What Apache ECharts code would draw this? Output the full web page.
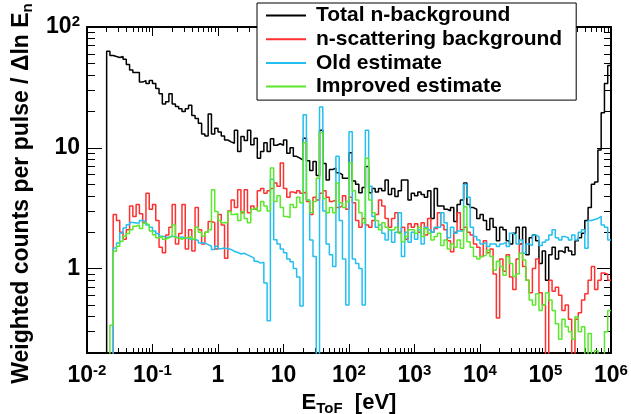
<!DOCTYPE html>
<html>
<head>
<meta charset="utf-8">
<script src="https://cdn.jsdelivr.net/npm/echarts@6/dist/echarts.min.js"></script>
<style>
html, body { margin: 0; padding: 0; background: #fff; }
#chart { width: 631px; height: 414px; }
</style>
</head>
<body>
<div id="chart"></div>
<script>
// Logarithmic binning in neutron energy: 20 bins per decade, 10^-2 eV .. 10^6 eV
const binsPerDecade = 20;
const logEnergyMin = -2;

// Bin contents (weighted counts per pulse / Δln E_n); null = bin not filled,
// 0 = empty bin (the histogram drops to the bottom of the frame)
const totalBackground = [
  null,null,null,null,null,null,63,58,57,56,57,54,49,44,42,42,35,36,34,36,
  34,31,28,23,24,28,23,22,21,20,21,22.5,18.5,17.5,16,13,12.5,19,13,14.5,
  13.5,12.5,11.6,11.2,10.9,14,9.3,12.4,11.5,14,10.6,12,8.2,9.3,11,9.3,11.9,10.5,10.8,10.5,
  11.6,9.0,10,8.5,8.2,7.9,12,7.8,6.5,7.7,5.9,14,7.4,5.4,6.6,6.8,6.2,6.0,5.6,5.6,
  9.1,5.3,5.0,4.25,4.7,7.0,4.25,4.6,4.3,4.6,4.4,5.4,4.1,4.6,3.95,4.4,5.4,5.4,3.7,4.2,
  4.0,4.3,4.1,3.9,4.4,2.6,4.6,3.3,3.3,3.1,3.0,3.2,2.45,3.4,3.7,5.1,3.4,3.2,3.1,2.6,
  2.8,2.5,2.1,2.6,2.2,1.7,2.2,2.1,1.7,1.6,1.96,2.2,1.6,2.2,1.3,1.8,1.9,1.7,1.1,1.4,
  0.8,1.3,1.5,1.2,1.4,1.35,1.5,1.4,1.3,1.7,1.8,1.96,2.5,3.2,5.0,5.2,9.6,19.5,34,48
];

const scatteringBackground = [
  null,null,null,null,null,null,null,null,2.8,2.5,2.0,1.75,2.1,3.3,2.7,3.4,2.85,2.4,4.2,3.1,
  3.4,2.5,1.5,1.35,1.9,2.2,3.4,1.6,1.95,3.4,1.45,2.1,1.4,3.2,2.1,1.6,2.0,2.45,2.4,1.45,
  2.8,2.3,1.22,3.0,3.7,3.2,4.5,2.9,4.5,2.9,3.3,3.1,4.4,4.6,4.2,4.4,4.6,5.1,4.8,7.5,
  4.6,3.9,4.3,4.2,4.4,4.2,4.3,3.6,2.8,3.9,3.7,4.2,4.4,3.9,3.6,3.7,3.2,3.3,4.0,3.1,
  3.9,3.5,2.5,2.2,2.6,2.3,2.2,2.5,2.8,3.7,3.3,2.6,2.2,2.6,2.9,2.0,2.2,1.75,2.35,2.2,
  2.35,2.0,2.4,1.9,2.6,2.0,2.15,2.9,2.3,2.1,1.7,1.38,2.0,2.9,2.1,2.2,2.0,1.9,1.6,1.5,
  1.26,1.7,1.35,1.45,0.9,0.39,1.2,0.95,1.3,0.85,0.67,1.2,1.6,1.04,0.8,0.63,1.0,1.2,0.63,0.5,
  0,0.8,0.65,0.7,0.6,0.45,0.5,0.38,0,0.38,0.43,0.55,0.62,0.8,1.04,0.67,0.8,0.92,0.9,0.8
];

const oldEstimate = [
  null,null,null,null,null,null,null,0,1.48,1.63,1.97,2.17,2.31,2.41,2.38,2.38,2.5,2.45,2.3,2.2,
  2.05,1.95,1.85,1.83,1.82,1.85,1.83,1.8,1.83,1.8,1.78,1.74,1.75,1.7,1.63,1.63,1.58,1.53,1.44,1.53,
  1.46,1.48,1.46,1.44,1.39,1.36,1.32,1.34,1.3,1.26,1.22,1.15,1.11,1.13,0.76,0.37,5.5,1.73,1.6,1.45,
  1.35,1.2,1.14,1.0,0.85,0.49,18.8,3.7,1.72,1.26,0,21.8,3.0,1.6,1.3,1.04,8.5,2.5,1.2,0.5,
  13.6,1.2,1.1,1.0,0.5,14,4.8,2.7,2.2,2.3,1.96,1.72,2.1,1.65,2.0,2.9,1.26,2.0,1.65,2.0,
  1.75,2.1,1.6,2.2,2.1,2.0,2.2,2.2,2.9,2.4,1.8,2.2,1.96,2.05,2.05,5.0,3.9,2.2,1.84,1.72,
  1.6,1.65,1.52,1.6,1.6,1.52,1.6,1.65,1.52,1.96,1.9,1.6,1.72,1.34,1.6,1.55,1.9,1.84,1.55,1.65,
  1.72,1.9,2.1,1.8,1.72,1.84,1.8,1.72,1.9,1.72,2.0,2.1,1.47,2.5,2.55,2.6,2.7,2.3,2.2,1.72
];

const improvedEstimate = [
  null,null,null,null,null,null,null,0.34,1.39,1.53,1.68,1.85,1.95,2.1,2.24,2.3,2.15,2.38,2.3,2.05,
  1.91,1.8,1.85,1.75,1.8,1.85,2.3,1.8,1.75,1.8,1.8,1.85,1.75,2.2,2.0,1.85,2.0,2.1,4.5,2.97,
  2.5,2.4,2.4,2.97,2.8,2.85,2.5,2.97,2.6,2.4,3.1,3.2,3.0,3.6,3.3,3.0,6.8,3.6,4.0,3.2,
  2.7,2.65,3.4,3.2,3.9,3.5,11,3.7,2.9,3.6,5.6,13.3,3.8,2.9,3.2,2.9,5.1,3.5,3.2,3.6,
  7.5,4.4,3.7,2.9,2.4,8.2,3.7,2.9,2.5,2.1,2.4,2.2,2.1,2.1,2.2,1.96,1.67,1.84,2.1,2.1,
  1.96,2.2,1.84,2.15,1.96,1.72,1.84,1.96,1.55,1.72,1.45,1.6,1.5,1.72,1.47,3.25,1.67,1.5,1.26,1.2,
  1.26,1.3,1.42,1.26,0.97,1.15,1.04,0.88,1.26,1.1,0.86,0.9,1.34,1.18,0.8,0.55,0.5,0.62,0.45,0.5,
  0.63,0.55,0.45,0.35,0.26,0.38,0.33,0.3,0.26,0.4,0.3,0.33,0,0.29,0,0.21,0,0,0.3,0.45
];

const seriesNames = ['Total n-background', 'n-scattering background', 'Old estimate', 'Improved estimate'];
const seriesColors = ['#000000', '#ff3030', '#22bff0', '#5ae82c'];

// Axis ranges and decade ticks
const xRange = [1e-2, 1e6];
const yRange = [0.2, 100];
const xMajorTicks = [1e-2, 1e-1, 1, 10, 1e2, 1e3, 1e4, 1e5, 1e6];
const yMajorTicks = [1, 10, 100];

// 2..9 x 10^k sub-ticks inside a range
function minorTicks(range) {
  const out = [];
  for (let k = Math.floor(Math.log10(range[0])); k < Math.ceil(Math.log10(range[1])); k++) {
    for (let m = 2; m <= 9; m++) {
      const v = m * Math.pow(10, k);
      if (v >= range[0] * 0.999 && v <= range[1] * 1.001) out.push(v);
    }
  }
  return out;
}

// Below-frame value used for empty bins on the log scale (clipped by the grid)
const EMPTY = 1e-3;
function binEdge(i) { return Math.pow(10, logEnergyMin + i / binsPerDecade); }
function histogramPoints(values) {
  const first = values.findIndex(v => v !== null);
  const pts = [[binEdge(first), EMPTY]];
  for (let i = first; i < values.length; i++) {
    pts.push([binEdge(i), values[i] > 0 ? values[i] : EMPTY]);
  }
  const last = values[values.length - 1];
  pts.push([binEdge(values.length), last > 0 ? last : EMPTY]);
  return pts;
}

const font = 'Liberation Sans, Arial, Helvetica, sans-serif';
const tickRich = {
  b: { fontSize: 23, fontWeight: 'bold', fontFamily: font, color: '#000', lineHeight: 26 },
  s: { fontSize: 15, fontWeight: 'bold', fontFamily: font, color: '#000', lineHeight: 16, verticalAlign: 'top' }
};
function powerLabel(v) {
  const e = Math.round(Math.log10(v));
  if (e === 0) return '{b|1}';
  if (e === 1) return '{b|10}';
  return '{b|10}{s|' + e + '}';
}

function makeAxis(kind, position, ticks, tickLen, withLine, withLabels, extra) {
  const range = kind === 'x' ? xRange : yRange;
  const majors = kind === 'x' ? xMajorTicks : yMajorTicks;
  return Object.assign({
    type: 'log', logBase: 10, min: range[0], max: range[1],
    position: position, offset: 0, gridIndex: 0,
    axisLine: { show: withLine, onZero: false, lineStyle: { color: '#000', width: 2 } },
    axisTick: { show: true, inside: true, length: tickLen, customValues: ticks,
                lineStyle: { color: '#000', width: 1 } },
    axisLabel: withLabels ? {
      show: true, customValues: majors, formatter: powerLabel, rich: tickRich,
      margin: kind === 'x' ? 10 : 7, showMinLabel: true, showMaxLabel: true
    } : { show: false },
    splitLine: { show: false },
    minorTick: { show: false },
    minorSplitLine: { show: false }
  }, extra || {});
}

const xMinor = minorTicks(xRange);
const yMinor = minorTicks(yRange);

const option = {
  animation: false,
  backgroundColor: '#fff',
  grid: { left: 87, right: 20, top: 27, bottom: 61, containLabel: false, outerBoundsMode: 'none' },
  legend: {
    orient: 'vertical', left: 257, top: 3,
    padding: [2, 14, 3, 9], itemGap: 2.7,
    itemWidth: 40, itemHeight: 2, icon: 'rect',
    backgroundColor: '#fff', borderColor: '#000', borderWidth: 1, borderRadius: 0,
    selectedMode: false,
    textStyle: { fontSize: 21, fontWeight: 'bold', fontFamily: font, color: '#000',
                 lineHeight: 21, padding: [0, 0, 0, 5] },
    data: seriesNames
  },
  xAxis: [
    makeAxis('x', 'bottom', xMajorTicks, 9, true, true, {
      name: '{b|E}{s|ToF}{b|  [eV]}', nameLocation: 'middle', nameGap: 28,
      nameTextStyle: { rich: {
        b: { fontSize: 22, fontWeight: 'bold', fontFamily: font, color: '#000', lineHeight: 26 },
        s: { fontSize: 15, fontWeight: 'bold', fontFamily: font, color: '#000', lineHeight: 6, verticalAlign: 'bottom' }
      } }
    }),
    makeAxis('x', 'bottom', xMinor, 5, false, false),
    makeAxis('x', 'top', xMajorTicks, 9, true, false),
    makeAxis('x', 'top', xMinor, 5, false, false)
  ],
  yAxis: [
    makeAxis('y', 'left', yMajorTicks, 15, true, true, {
      name: '{t|Weighted counts per pulse / Δln E}{s|n}', nameLocation: 'middle', nameGap: 52,
      nameTextStyle: { padding: [0, 7, 0, 0], rich: {
        t: { fontSize: 23, fontWeight: 'bold', fontFamily: font, color: '#000', lineHeight: 26 },
        s: { fontSize: 15, fontWeight: 'bold', fontFamily: font, color: '#000', lineHeight: 10, verticalAlign: 'bottom' }
      } }
    }),
    makeAxis('y', 'left', yMinor, 8, false, false),
    makeAxis('y', 'right', yMajorTicks, 14, true, false),
    makeAxis('y', 'right', yMinor, 7, false, false)
  ],
  series: [totalBackground, scatteringBackground, oldEstimate, improvedEstimate].map((vals, k) => ({
    name: seriesNames[k],
    type: 'line',
    step: 'end',
    xAxisIndex: 0,
    yAxisIndex: 0,
    symbol: 'none',
    showSymbol: false,
    clip: true,
    color: seriesColors[k],
    lineStyle: { color: seriesColors[k], width: 1.5 },
    data: histogramPoints(vals),
    z: 2 + k
  }))
};

const chart = echarts.init(document.getElementById('chart'), null, { renderer: 'canvas' });
chart.setOption(option);
</script>
</body>
</html>
